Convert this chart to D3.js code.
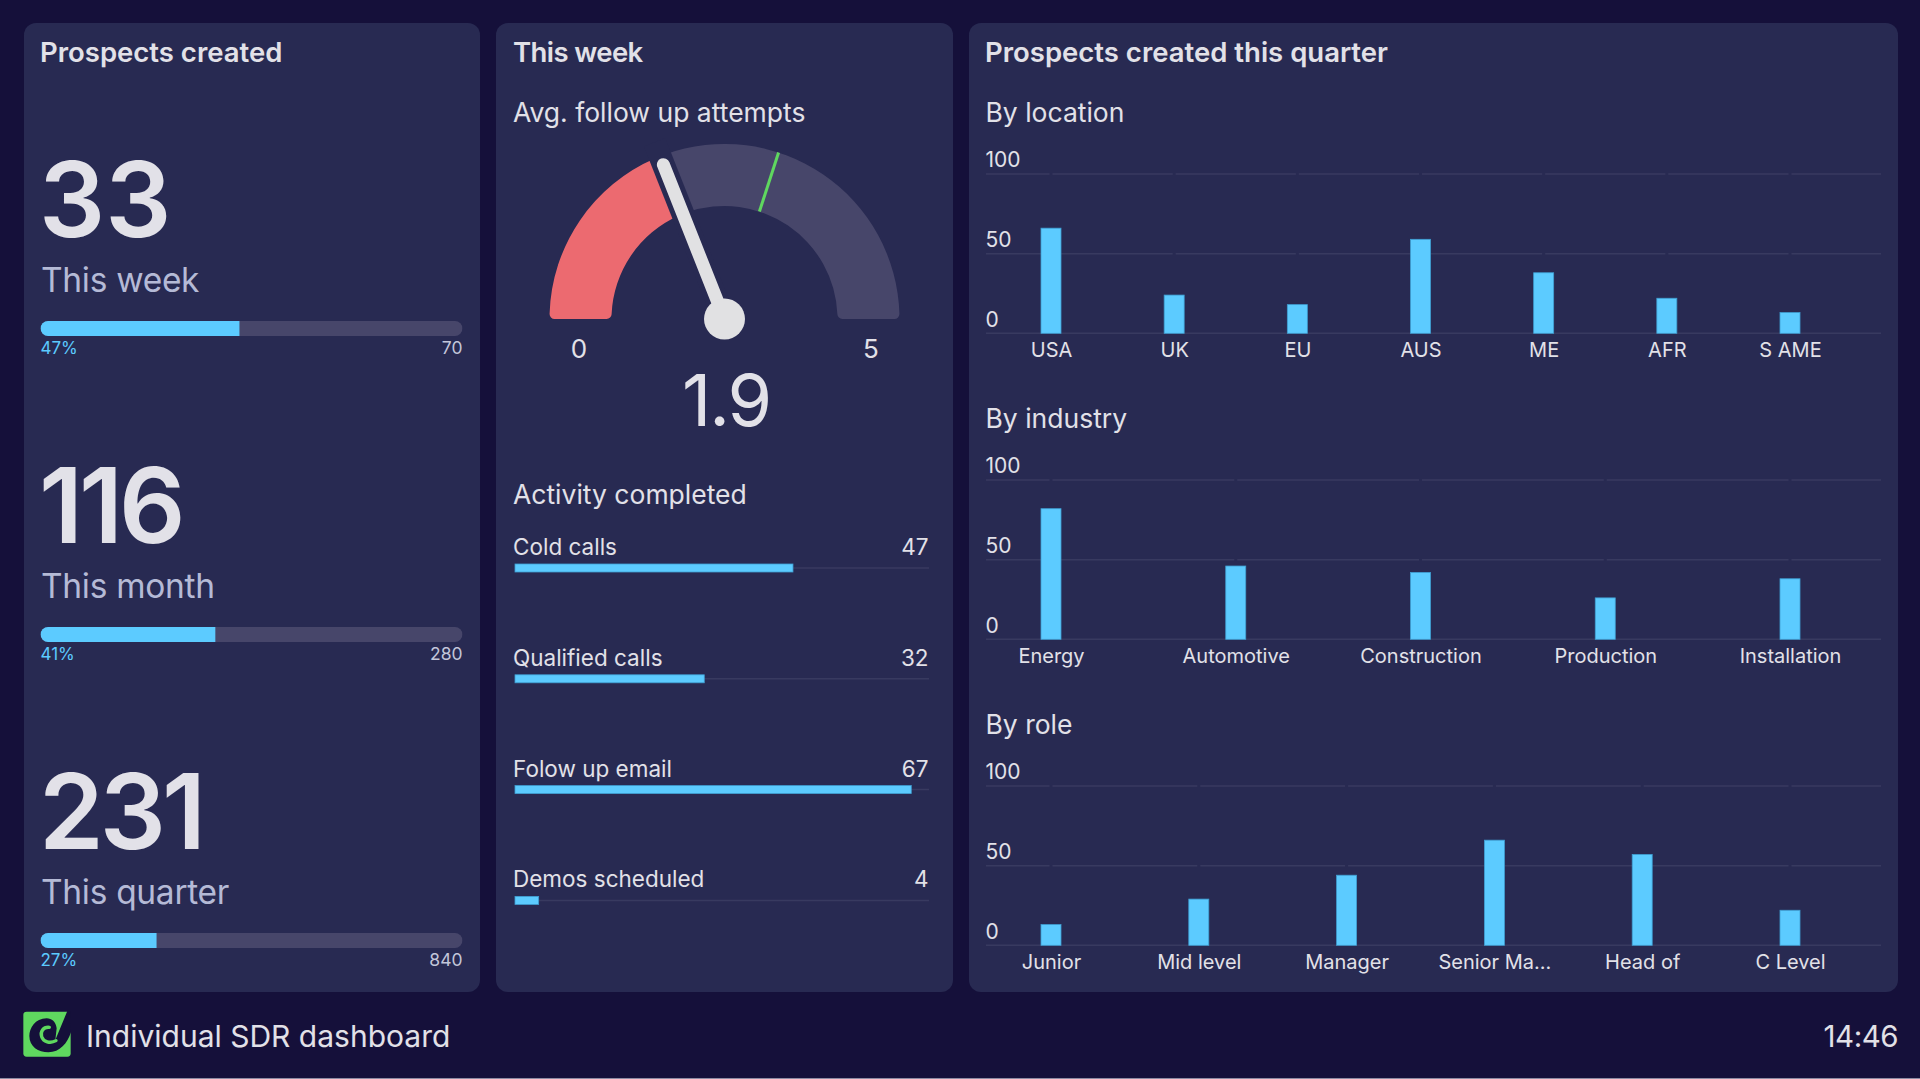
<!doctype html>
<meta charset="utf-8"/>
<title>Individual SDR dashboard</title>
<script src="https://cdn.jsdelivr.net/npm/d3@7"></script>
<style type="text/css">
body { margin: 0; background: #15103a; overflow: hidden; }
svg { display: block; }
text { font-family: Inter, "Noto Sans", sans-serif; fill: #e2e1e8; }
.heading { font-size: 27.5px; font-weight: 600; }
.sub { font-size: 26.5px; font-weight: 400; }
.tick-label { font-size: 20px; }
</style>
<body>
<script>
var prospectValues = [33, 116, 231];
var prospectLabels = ["This week", "This month", "This quarter"];
var prospectTargets = [70, 280, 840];
var prospectPercents = ["47%", "41%", "27%"];

var gaugeValue = 1.9;
var gaugeTarget = 3;
var gaugeMin = 0;
var gaugeMax = 5;

var activityLabels = ["Cold calls", "Qualified calls", "Folow up email", "Demos scheduled"];
var activityValues = [47, 32, 67, 4];
var activityMax = 70;

var locationNames = ["USA", "UK", "EU", "AUS", "ME", "AFR", "S AME"];
var locationValues = [66, 24, 18, 59, 38, 22, 13];
var industryNames = ["Energy", "Automotive", "Construction", "Production", "Installation"];
var industryValues = [82, 46, 42, 26, 38];
var roleNames = ["Junior", "Mid level", "Manager", "Senior Ma...", "Head of", "C Level"];
var roleValues = [13, 29, 44, 66, 57, 22];
var yTicks = [0, 50, 100];

var BLUE = "#5ccbff", BLUE_EDGE = "#3f9ed2", TRACK = "#47466a", PANEL = "#282a52", GRID = "#383a60";
var ROW = 306;

var svg = d3.select("body").append("svg").attr("width", 1920).attr("height", 1079);
svg.append("rect").attr("width", 1920).attr("height", 1079).attr("fill", "#15103a");
svg.append("rect").attr("y", 1078).attr("width", 1920).attr("height", 1).attr("fill", "#8d8ba3");

function text(g, x, y, str, cls) {
  return g.append("text").attr("x", x).attr("y", y).attr("class", cls || null).text(str);
}

[[24, 456], [496, 457], [969, 929]].forEach(function (p) {
  svg.append("rect").attr("x", p[0]).attr("y", 23).attr("width", p[1]).attr("height", 969)
    .attr("rx", 12).attr("fill", PANEL);
});

text(svg, 40, 62, "Prospects created", "heading");
text(svg, 513, 62, "This week", "heading").attr("letter-spacing", -0.6);
text(svg, 985, 62, "Prospects created this quarter", "heading");

/* left column: big number + progress bar */
prospectValues.forEach(function (v, i) {
  var g = svg.append("g").attr("transform", "translate(0," + i * ROW + ")");
  text(g, 39, 237, v).attr("font-size", 104).attr("font-weight", 600).attr("letter-spacing", i ? -4 : 0);
  text(g, 41, 292, prospectLabels[i]).attr("font-size", 33.5).attr("letter-spacing", -0.3).style("fill", "#b5bad6");

  var x = d3.scaleLinear().domain([0, prospectTargets[i]]).range([40.5, 462.5]);
  var id = "bar" + i;
  g.append("clipPath").attr("id", id).append("rect")
    .attr("x", 40.5).attr("y", 321).attr("width", 422).attr("height", 15).attr("rx", 7.5);
  var bars = g.append("g").attr("clip-path", "url(#" + id + ")");
  bars.append("rect").attr("x", 40.5).attr("y", 321).attr("width", 422).attr("height", 15).attr("fill", TRACK);
  bars.append("rect").attr("x", 40.5).attr("y", 321).attr("width", x(v) - x(0)).attr("height", 15).attr("fill", BLUE);

  text(g, 40.5, 354, prospectPercents[i]).attr("font-size", 17).style("fill", BLUE);
  text(g, 462.5, 354, prospectTargets[i]).attr("font-size", 17.5).attr("text-anchor", "end").style("fill", "#c3c6da");
});

/* gauge */
text(svg, 513, 122, "Avg. follow up attempts", "sub");
var gauge = svg.append("g").attr("transform", "translate(724.5,319)");
var angle = d3.scaleLinear().domain([gaugeMin, gaugeMax]).range([-Math.PI / 2, Math.PI / 2]);
var arc = d3.arc().innerRadius(113).outerRadius(175).cornerRadius(5);
gauge.append("path").attr("fill", "#ec6a70")
  .attr("d", arc({ startAngle: angle(gaugeMin), endAngle: angle(gaugeValue) }));
gauge.append("path").attr("fill", TRACK)
  .attr("d", arc({ startAngle: angle(gaugeValue), endAngle: angle(gaugeMax) }));

function polar(value, r) {
  var a = angle(value);
  return [r * Math.sin(a), -r * Math.cos(a)];
}
function spoke(value, r0, r1) {
  var a = polar(value, r0), b = polar(value, r1);
  return gauge.append("line").attr("x1", a[0]).attr("y1", a[1]).attr("x2", b[0]).attr("y2", b[1]);
}
spoke(gaugeTarget, 113, 175).attr("stroke", "#5fd85f").attr("stroke-width", 3);
spoke(gaugeValue, 0, 190).attr("stroke", PANEL).attr("stroke-width", 23);
spoke(gaugeValue, 0, 166).attr("stroke", "#e1e1e3").attr("stroke-width", 13).attr("stroke-linecap", "round");
gauge.append("circle").attr("r", 20.5).attr("fill", "#e1e1e3");

text(svg, 579, 358, gaugeMin).attr("font-size", 26).attr("text-anchor", "middle");
text(svg, 871, 358, gaugeMax).attr("font-size", 26).attr("text-anchor", "middle");
text(svg, 726, 426, gaugeValue).attr("font-size", 72).attr("letter-spacing", -2).attr("text-anchor", "middle");

/* activity rows */
text(svg, 513, 504, "Activity completed", "sub");
var actX = d3.scaleLinear().domain([0, activityMax]).range([515, 929]);
activityLabels.forEach(function (label, i) {
  var y = 568 + i * 110.8;
  svg.append("line").attr("x1", actX(0)).attr("x2", actX.range()[1]).attr("y1", y).attr("y2", y)
    .attr("stroke", GRID).attr("stroke-width", 1.5);
  svg.append("rect").attr("x", actX(0)).attr("y", y - 4).attr("width", actX(activityValues[i]) - actX(0)).attr("height", 8)
    .attr("fill", BLUE).attr("stroke", BLUE_EDGE).attr("stroke-width", 0.8);
  text(svg, 513, y - 13, label).attr("font-size", 22.5);
  text(svg, 928.5, y - 13, activityValues[i]).attr("font-size", 22.5).attr("text-anchor", "end");
});

/* bar charts */
function barChart(title, names, values, top) {
  var g = svg.append("g").attr("transform", "translate(0," + top + ")");
  text(g, 985.5, 122, title, "sub");

  var x = d3.scalePoint().domain(names).range([1051, 1790]);
  var y = d3.scaleLinear().domain([0, 100]).range([333.3, 174]);

  // grid lines break for a few px under every category, the zero line does not
  yTicks.forEach(function (t) {
    var stops = t === 0 ? [] : names.map(x);
    var edges = [986].concat(stops, [1881]);
    d3.pairs(edges).forEach(function (e, k) {
      g.append("line").attr("y1", y(t)).attr("y2", y(t))
        .attr("x1", e[0] + (k ? 1.5 : 0))
        .attr("x2", e[1] - (k < edges.length - 2 ? 1.5 : 0))
        .attr("stroke", GRID).attr("stroke-width", 1.5);
    });
  });

  var yAxis = g.append("g").call(d3.axisLeft(y).tickValues(yTicks).tickSize(0));
  yAxis.select(".domain").remove();
  yAxis.selectAll("text").attr("x", 985.5).attr("dy", "-7.3px").attr("text-anchor", "start")
    .attr("class", "tick-label").style("font-size", "21px");
  yAxis.attr("font-family", null).attr("font-size", null);

  g.selectAll("rect.bar").data(values).enter().append("rect").attr("class", "bar")
    .attr("x", function (d, i) { return x(names[i]) - 10; })
    .attr("width", 20)
    .attr("y", function (d) { return y(d); })
    .attr("height", function (d) { return y(0) - y(d); })
    .attr("fill", BLUE).attr("stroke", BLUE_EDGE).attr("stroke-width", 0.8);

  var xAxis = g.append("g").attr("transform", "translate(0,333.3)")
    .call(d3.axisBottom(x).tickSize(0).tickPadding(10));
  xAxis.select(".domain").remove();
  xAxis.selectAll("text").attr("class", "tick-label").attr("dy", "0.71em");
  xAxis.attr("font-family", null).attr("font-size", null);
}
barChart("By location", locationNames, locationValues, 0);
barChart("By industry", industryNames, industryValues, ROW);
barChart("By role", roleNames, roleValues, ROW * 2);

/* footer */
var logo = svg.append("g").attr("transform", "translate(10,1000) scale(0.3333)");
logo.append("rect").attr("x", 40).attr("y", 35).attr("width", 142).attr("height", 135).attr("rx", 10).attr("fill", "#5fd85f");
logo.append("path").attr("fill", "#15103a")
  .attr("d", "M110,55 C75,55 58,85 58,108 C58,140 85,157 115,157 C150,157 172,130 183,97 L183,33 L172,33 L136,120 L140,85 C138,65 125,55 110,55 Z");
logo.append("path").attr("fill", "none").attr("stroke", "#5fd85f").attr("stroke-width", 10).attr("stroke-linecap", "round")
  .attr("d", "M118,82 C100,80 90,95 95,110 C100,125 120,132 138,122");
text(svg, 86, 1047, "Individual SDR dashboard").attr("font-size", 30);
text(svg, 1898, 1047, "14:46").attr("font-size", 29.5).attr("letter-spacing", -0.5).attr("text-anchor", "end");
</script>
</body>
